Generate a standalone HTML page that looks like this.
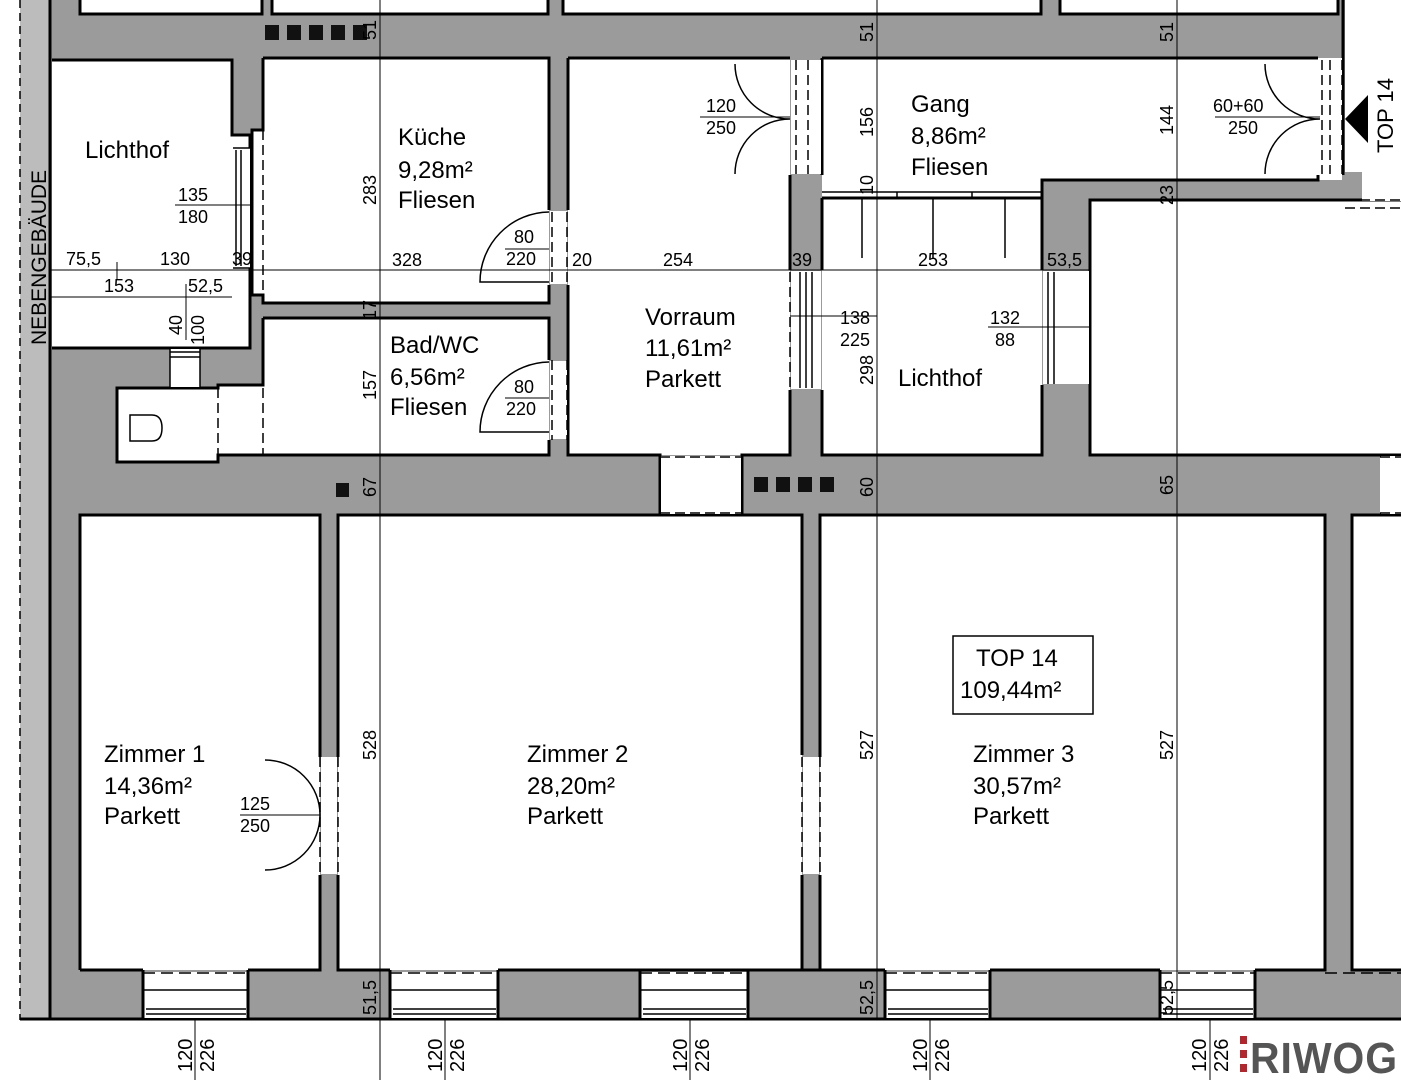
<!DOCTYPE html>
<html><head><meta charset="utf-8"><style>
html,body{margin:0;padding:0;background:#fff;}
svg{display:block;}
text{font-family:"Liberation Sans",sans-serif;fill:#000;}
.r{font-size:24px;}
.d{font-size:18px;}
</style></head><body>
<svg width="1401" height="1080" viewBox="0 0 1401 1080" xmlns="http://www.w3.org/2000/svg">
<rect x="20" y="0" width="30" height="1020" fill="#bcbcbc"/>
<line x1="20" y1="0" x2="20" y2="1020" stroke="#000" stroke-width="1.5" stroke-dasharray="8,5"/>
<text transform="translate(46,345) rotate(-90)" style="font-size:21px">NEBENGEBÄUDE</text>
<rect x="50" y="0" width="1295" height="1020" fill="#9b9b9b"/>
<rect x="1340" y="172" width="22" height="30" fill="#9b9b9b"/>
<rect x="1345" y="455" width="35" height="60" fill="#9b9b9b"/>
<rect x="1345" y="515" width="56" height="505" fill="#9b9b9b"/>
<line x1="50" y1="0" x2="50" y2="1020" stroke="#000" stroke-width="3"/>
<line x1="20" y1="1019" x2="1401" y2="1019" stroke="#000" stroke-width="3"/>
<rect x="1345" y="-2" width="60" height="174" fill="#fff"/>
<line x1="1343" y1="0" x2="1343" y2="175" stroke="#000" stroke-width="3"/>
<g fill="#fff">
<polygon points="52,60 232,60 232,135 250,135 250,348 52,348"/>
<polygon points="252,130 263,130 263,58 549,58 549,303 263,303 263,295 252,295"/>
<polygon points="263,318 549,318 549,455 218,455 218,462 117,462 117,388 218,388 218,385 263,385"/>
<rect x="568" y="58" width="222" height="397"/>
<polygon points="822,58 1342,58 1342,180 1042,180 1042,198 822,198"/>
<rect x="822" y="198" width="220" height="257"/>
<rect x="1090" y="200" width="311" height="255"/>
<rect x="80" y="515" width="240" height="455"/>
<rect x="338" y="515" width="464" height="455"/>
<rect x="820" y="515" width="505" height="455"/>
<rect x="1352" y="515" width="49" height="455"/>
</g>
<g fill="none" stroke="#000" stroke-width="3">
<rect x="80" y="-5" width="182" height="19" fill="#fff"/>
<rect x="272" y="-5" width="276" height="19" fill="#fff"/>
<rect x="563" y="-5" width="478" height="19" fill="#fff"/>
<rect x="1060" y="-5" width="278" height="19" fill="#fff"/>
<path d="M52 60 H232 V135 H250 V348 H52"/>
<path d="M263 58 H549 V210 M549 285 V303 H263 V295 H252 V130 H263 V58"/>
<path d="M263 318 H549 V360 M549 440 V455 H218 V462 H117 V388 H218 V385 H263 V318"/>
<path d="M568 58 H790 M790 175 V270 M790 390 V455 H742 V515 M660 515 V455 H568 V285 M568 210 V58"/>
<path d="M822 58 H1318 M1318 175 V180 H1042 V198 H822 M822 175 V58"/>
<path d="M822 198 H1042 V270 M1042 385 V455 H822 V390 M822 270 V198"/>
<path d="M1401 200 H1090 V455 H1401"/>
<path d="M80 970 H143 M248 970 H320 V875 M320 757 V515 H80 V970"/>
<path d="M338 757 V515 H802 V755 M802 875 V970 H498 M390 970 H338 V875"/>
<path d="M820 757 V515 H1325 V970 H1255 M885 970 H820 V875"/>
<path d="M1401 515 H1352 V970 H1401"/>
</g>
<g fill="#fff">
<rect x="791" y="60" width="30" height="114"/>
<rect x="1319" y="60" width="23" height="114"/>
<rect x="661" y="456" width="80" height="58"/>
<rect x="803" y="757" width="16" height="117"/>
<rect x="321" y="757" width="16" height="117"/>
<rect x="550" y="211" width="17" height="73"/>
<rect x="550" y="361" width="17" height="78"/>
<rect x="791" y="271" width="30" height="118"/>
<rect x="1043" y="271" width="46" height="113"/>
<rect x="233" y="148" width="17" height="120"/>
<rect x="170" y="349" width="30" height="38"/>
<rect x="1381" y="456" width="20" height="58"/>
<rect x="1362" y="176" width="39" height="25"/>
</g>
<g>
<rect x="143" y="972" width="105" height="46" fill="#fff"/>
<rect x="390" y="972" width="108" height="46" fill="#fff"/>
<rect x="640" y="972" width="108" height="46" fill="#fff"/>
<rect x="885" y="972" width="105" height="46" fill="#fff"/>
<rect x="1160" y="972" width="95" height="46" fill="#fff"/>
<path d="M248 970 V1019 M390 970 V1019 M498 970 V1019 M640 970 V1019 M748 970 V1019 M885 970 V1019 M990 970 V1019 M1160 970 V1019 M1255 970 V1019 M143 970 V1019 M498 970 H640 M748 970 H820 M990 970 H1160" stroke="#000" stroke-width="3" fill="none"/>
<g stroke="#000" stroke-width="1.5" fill="none">
<path d="M143 973 H248 M390 973 H498 M640 973 H748 M885 973 H990 M1160 973 H1255 M1325 973 H1401" stroke-dasharray="12,6"/>
<path d="M143 990 H248 M390 990 H498 M640 990 H748 M885 990 H990 M1160 990 H1255"/>
<path d="M146 1009 H246 M146 1014 H246 M393 1009 H496 M393 1014 H496 M643 1009 H746 M643 1014 H746 M888 1009 H988 M888 1014 H988 M1163 1009 H1253 M1163 1014 H1253"/>
</g>
</g>
<g stroke="#000" stroke-width="1.5" fill="none" stroke-dasharray="10,5">
<path d="M660 457 H742 M660 513 H742"/>
<path d="M796 60 V174 M808 60 V174 M822 60 V174"/>
<path d="M1322 60 V174 M1330 60 V174 M1342 60 V174"/>
<path d="M552 212 V285 M567 212 V285 M552 360 V440 M567 360 V440"/>
<path d="M802 757 V875 M820 757 V875"/>
<path d="M320 757 V875 M338 757 V875"/>
<path d="M263 130 V295"/>
<path d="M218 388 V455 M263 388 V455"/>
<path d="M790 272 V390 M1090 272 V385"/>
<path d="M1345 200 H1401 M1345 208 H1401 M1380 457 H1401 M1380 513 H1401"/>
</g>
<g stroke="#000" stroke-width="1.5" fill="none">
<path d="M233 148 H250 M233 268 H250 M236 150 V266 M241 150 V266 M822 192 H1042 M822 198 H1042 M897 192 V198 M972 192 V198"/>
<path d="M800 272 V388 M806 272 V388 M812 272 V388 M1048 272 V384 M1054 272 V384"/>
<path d="M170 352 H200 M170 357 H200 M170 349 V388 M200 349 V388"/>
<path d="M862 198 V258 M933 198 V258 M1005 198 V258"/>
<path d="M130 415 H152 Q162 415 162 428 Q162 441 152 441 H130 Z"/>
</g>
<g stroke="#000" stroke-width="1.5" fill="none">
<path d="M549 212 A70 70 0 0 0 480 282 H549"/>
<path d="M549 362 A70 70 0 0 0 480 432 H549"/>
<path d="M735 64 A55 55 0 0 0 790 119 A55 55 0 0 0 735 174"/>
<path d="M1265 64 A55 55 0 0 0 1320 119 A55 55 0 0 0 1265 174"/>
<path d="M265 760 A55 55 0 0 1 320 815 A55 55 0 0 1 265 870"/>
</g>
<g stroke="#000" stroke-width="1" fill="none">
<path d="M380 0 V1080 M877 0 V1020 M1177 0 V1020"/>
<path d="M50 270 H1090 M50 297 H232"/>
<path d="M186 284 V340 M117 262 V280"/>
<path d="M930 1020 V1080 M445 1020 V1080 M195 1020 V1080 M690 1020 V1080 M1210 1020 V1080"/>
<path d="M175 205 H250 M700 117 H790 M1215 117 H1320 M790 316 H877 M988 327 H1090 M240 815 H320 M505 249 H549 M505 398 H549"/>
</g>
<g fill="#111">
<rect x="265" y="25" width="14" height="15"/><rect x="287" y="25" width="14" height="15"/><rect x="309" y="25" width="14" height="15"/><rect x="331" y="25" width="14" height="15"/><rect x="353" y="25" width="14" height="15"/>
<rect x="754" y="477" width="14" height="15"/><rect x="776" y="477" width="14" height="15"/><rect x="798" y="477" width="14" height="15"/><rect x="820" y="477" width="14" height="15"/>
<rect x="336" y="483" width="13" height="14"/>
</g>
<polygon points="1345,119 1368,95 1368,143" fill="#000"/>
<text transform="translate(1393,153) rotate(-90)" style="font-size:22px">TOP 14</text>
<g class="r">
<text x="85" y="158">Lichthof</text>
<text x="398" y="145">Küche</text>
<text x="398" y="178">9,28m²</text>
<text x="398" y="208">Fliesen</text>
<text x="390" y="353">Bad/WC</text>
<text x="390" y="385">6,56m²</text>
<text x="390" y="415">Fliesen</text>
<text x="645" y="325">Vorraum</text>
<text x="645" y="356">11,61m²</text>
<text x="645" y="387">Parkett</text>
<text x="911" y="112">Gang</text>
<text x="911" y="144">8,86m²</text>
<text x="911" y="175">Fliesen</text>
<text x="898" y="386">Lichthof</text>
<text x="104" y="762">Zimmer 1</text>
<text x="104" y="794">14,36m²</text>
<text x="104" y="824">Parkett</text>
<text x="527" y="762">Zimmer 2</text>
<text x="527" y="794">28,20m²</text>
<text x="527" y="824">Parkett</text>
<text x="973" y="762">Zimmer 3</text>
<text x="973" y="794">30,57m²</text>
<text x="973" y="824">Parkett</text>
</g>
<rect x="953" y="636" width="140" height="78" fill="none" stroke="#000" stroke-width="1.5"/>
<text x="976" y="666" class="r">TOP 14</text>
<text x="960" y="698" class="r">109,44m²</text>
<g class="d">
<text x="178" y="201">135</text><text x="178" y="223">180</text>
<text x="514" y="243">80</text><text x="506" y="265">220</text>
<text x="514" y="393">80</text><text x="506" y="415">220</text>
<text x="706" y="112">120</text><text x="706" y="134">250</text>
<text x="1213" y="112">60+60</text><text x="1228" y="134">250</text>
<text x="840" y="324">138</text><text x="840" y="346">225</text>
<text x="990" y="324">132</text><text x="995" y="346">88</text>
<text x="240" y="810">125</text><text x="240" y="832">250</text>
<text x="66" y="265">75,5</text><text x="160" y="265">130</text><text x="232" y="265">39</text>
<text x="392" y="266">328</text><text x="572" y="266">20</text><text x="663" y="266">254</text>
<text x="792" y="266">39</text><text x="918" y="266">253</text><text x="1047" y="266">53,5</text>
<text x="104" y="292">153</text><text x="188" y="292">52,5</text>
<text transform="translate(376,205) rotate(-90)">283</text>
<text transform="translate(376,400) rotate(-90)">157</text>
<text transform="translate(376,320) rotate(-90)">17</text>
<text transform="translate(376,40) rotate(-90)">51</text>
<text transform="translate(376,497) rotate(-90)">67</text>
<text transform="translate(376,760) rotate(-90)">528</text>
<text transform="translate(376,1015) rotate(-90)">51,5</text>
<text transform="translate(873,42) rotate(-90)">51</text>
<text transform="translate(873,137) rotate(-90)">156</text>
<text transform="translate(873,195) rotate(-90)">10</text>
<text transform="translate(873,385) rotate(-90)">298</text>
<text transform="translate(873,497) rotate(-90)">60</text>
<text transform="translate(873,760) rotate(-90)">527</text>
<text transform="translate(873,1015) rotate(-90)">52,5</text>
<text transform="translate(1173,42) rotate(-90)">51</text>
<text transform="translate(1173,135) rotate(-90)">144</text>
<text transform="translate(1173,205) rotate(-90)">23</text>
<text transform="translate(1173,495) rotate(-90)">65</text>
<text transform="translate(1173,760) rotate(-90)">527</text>
<text transform="translate(1173,1015) rotate(-90)">52,5</text>
<text transform="translate(182,335) rotate(-90)">40</text>
<text transform="translate(204,345) rotate(-90)">100</text>
</g>
<g style="font-size:20px">
<text transform="translate(192,1072) rotate(-90)">120</text><text transform="translate(214,1072) rotate(-90)">226</text>
<text transform="translate(442,1072) rotate(-90)">120</text><text transform="translate(464,1072) rotate(-90)">226</text>
<text transform="translate(687,1072) rotate(-90)">120</text><text transform="translate(709,1072) rotate(-90)">226</text>
<text transform="translate(927,1072) rotate(-90)">120</text><text transform="translate(949,1072) rotate(-90)">226</text>
<text transform="translate(1206,1072) rotate(-90)">120</text><text transform="translate(1228,1072) rotate(-90)">226</text>
</g>
<rect x="1240" y="1036" width="7" height="8" fill="#b3262d"/>
<rect x="1240" y="1050" width="7" height="8" fill="#b3262d"/>
<rect x="1240" y="1064" width="7" height="8" fill="#b3262d"/>
<text x="1250" y="1073" style="font-size:44px;font-weight:bold;fill:#555;letter-spacing:1px" textLength="148" lengthAdjust="spacingAndGlyphs">RIWOG</text>
</svg>
</body></html>
